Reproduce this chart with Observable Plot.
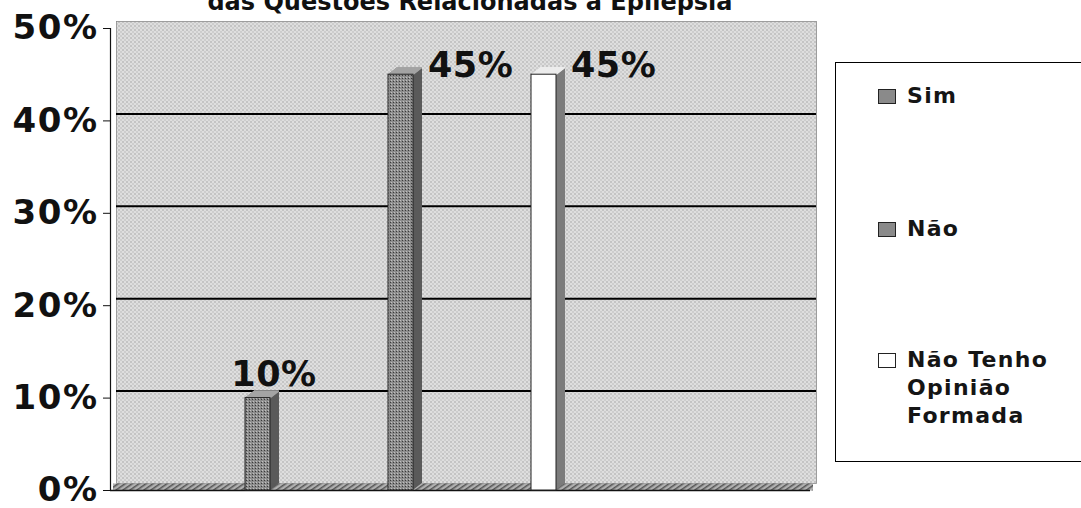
<!DOCTYPE html>
<html>
<head>
<meta charset="utf-8">
<script src="https://cdn.jsdelivr.net/npm/d3@7"></script>
<script src="https://cdn.jsdelivr.net/npm/@observablehq/plot@0.6"></script>
<style>
  body { margin: 0; background: #fff; font-family: "DejaVu Sans", "Liberation Sans", Arial, sans-serif; }
  #wrap { position: relative; width: 1081px; height: 508px; overflow: hidden; background: #fff; }
  #chart { position: absolute; left: 0; top: 0; }
  #title { position: absolute; left: 0; top: -10px; width: 940px; text-align: center;
           font: bold 24px/24px "DejaVu Sans", Arial, sans-serif; color: #111; white-space: nowrap; }
  #legend { position: absolute; left: 835px; top: 62px; width: 270px; height: 400px;
            border: 1.5px solid #000; box-sizing: border-box; background: #fff; }
  .item { position: absolute; left: 0; }
  .sw { position: absolute; left: 42px; width: 18px; height: 15px; border: 1px solid #222; box-sizing: border-box; }
  .txt { position: absolute; left: 71px; font: bold 22px/28px "DejaVu Sans", Arial, sans-serif;
         letter-spacing: 1.3px; color: #151515; white-space: nowrap; }
  .ylab text { letter-spacing: 1.5px; }
  .lbl text { letter-spacing: 0.5px; }
</style>
</head>
<body>
<svg width="0" height="0" style="position:absolute">
  <defs>
    <pattern id="halftone" width="4" height="4" patternUnits="userSpaceOnUse">
      <rect width="4" height="4" fill="#dedede"/>
      <rect x="0" y="0" width="1" height="1" fill="#777"/>
      <rect x="2" y="2" width="1" height="1" fill="#9a9a9a"/>
    </pattern>
    <pattern id="barDots" width="3" height="3" patternUnits="userSpaceOnUse">
      <rect width="3" height="3" fill="#8c8c8c"/>
      <rect x="0" y="0" width="1" height="1" fill="#3a3a3a"/>
      <rect x="1" y="2" width="1" height="1" fill="#c0c0c0"/>
    </pattern>
    <pattern id="floorHatch" width="4" height="4" patternUnits="userSpaceOnUse" patternTransform="rotate(-35)">
      <rect width="4" height="4" fill="#b0b0b0"/>
      <rect width="4" height="1.5" fill="#555"/>
    </pattern>
  </defs>
</svg>
<div id="wrap">
  <div id="title"></div>
  <div id="chart"></div>
  <div id="legend"></div>
</div>
<script>
// ---- data ----
const titleText = "das Questões Relacionadas à Epilepsia";
const categories = ["Sim", "Não", "Não Tenho Opinião Formada"];
const values = [10, 45, 45];
const legendLines = [["Sim"], ["Não"], ["Não Tenho", "Opinião", "Formada"]];
const yTicks = [0, 10, 20, 30, 40, 50];
const gridValues = [10, 20, 30, 40];

// ---- palette ----
const frontColors = ["url(#barDots)", "url(#barDots)", "#ffffff"];
const swatchColors = ["#8a8a8a", "#8a8a8a", "#ffffff"];
const sideColors = ["#5a5a5a", "#5a5a5a", "#7c7c7c"];
const topColors = ["#a4a4a4", "#a4a4a4", "#ececec"];

const data = categories.map((c, i) => ({cat: c, value: values[i], i}));

document.getElementById("title").textContent = titleText;

// 3D depth of bars / walls
const depthX = 9, depthY = 7, steps = 18;
const layers = d3.range(1, steps + 1).map(k => k / steps);

const chart = Plot.plot({
  width: 830,
  height: 508,
  marginLeft: 110,
  marginRight: 20,
  marginTop: 28,
  marginBottom: 18,
  style: {fontFamily: "'DejaVu Sans', Arial, sans-serif", color: "#111", background: "transparent"},
  x: {domain: categories, paddingInner: 0.826, paddingOuter: 1.352, align: 0.348, axis: null},
  y: {domain: [0, 50], axis: null},
  color: {type: "identity"},
  marks: [
    // back wall
    Plot.frame({fill: "url(#halftone)", stroke: "#8a8a8a", strokeWidth: 0.8, dx: 6, dy: -7}),
    // floor
    Plot.ruleY([0], {stroke: "url(#floorHatch)", strokeWidth: 7, dx: 3, dy: -3.5}),
    Plot.ruleY([0], {stroke: "#111", strokeWidth: 1.5}),
    // gridlines on the back wall
    Plot.ruleY(gridValues, {stroke: "#000", strokeWidth: 2, dx: 6, dy: -7}),
    // front-left axis line
    Plot.frame({anchor: "left", stroke: "#111", strokeWidth: 1.2}),
    Plot.axisY({ticks: yTicks, tickFormat: d => d + "%", tickSize: 7, tickPadding: 5, label: null,
                fontSize: 34, fontWeight: "bold", className: "ylab", stroke: "#111"}),
    // bar extrusion (side)
    layers.map(t => Plot.barY(data, {x: "cat", y: "value", fill: d => sideColors[d.i],
                                     dx: t * depthX, dy: -t * depthY})),
    // bar top faces
    layers.map(t => Plot.tickY(data, {x: "cat", y: "value", stroke: d => topColors[d.i], strokeWidth: 1.5,
                                      dx: t * depthX, dy: -t * depthY})),
    // bar front faces
    Plot.barY(data, {x: "cat", y: "value", fill: d => frontColors[d.i], stroke: "#222", strokeWidth: 1}),
    // value labels
    Plot.text(data.filter(d => d.value < 30), {x: "cat", y: "value", text: d => d.value + "%",
              dx: 16, dy: -23, fontSize: 35, fontWeight: "bold", fill: "#111", className: "lbl"}),
    Plot.text(data.filter(d => d.value >= 30), {x: "cat", y: "value", text: d => d.value + "%",
              textAnchor: "start", dx: 27, dy: -9, fontSize: 35, fontWeight: "bold", fill: "#111", className: "lbl"})
  ]
});
document.getElementById("chart").appendChild(chart);

// ---- legend ----
const legend = document.getElementById("legend");
const rowTops = [19, 152, 283];
legendLines.forEach((lines, i) => {
  const item = document.createElement("div");
  item.className = "item";
  item.style.top = rowTops[i] + "px";
  const sw = document.createElement("div");
  sw.className = "sw";
  sw.style.top = "7px";
  sw.style.background = swatchColors[i];
  const txt = document.createElement("div");
  txt.className = "txt";
  txt.style.top = "0px";
  txt.innerHTML = lines.join("<br>");
  item.appendChild(sw);
  item.appendChild(txt);
  legend.appendChild(item);
});
</script>
</body>
</html>
